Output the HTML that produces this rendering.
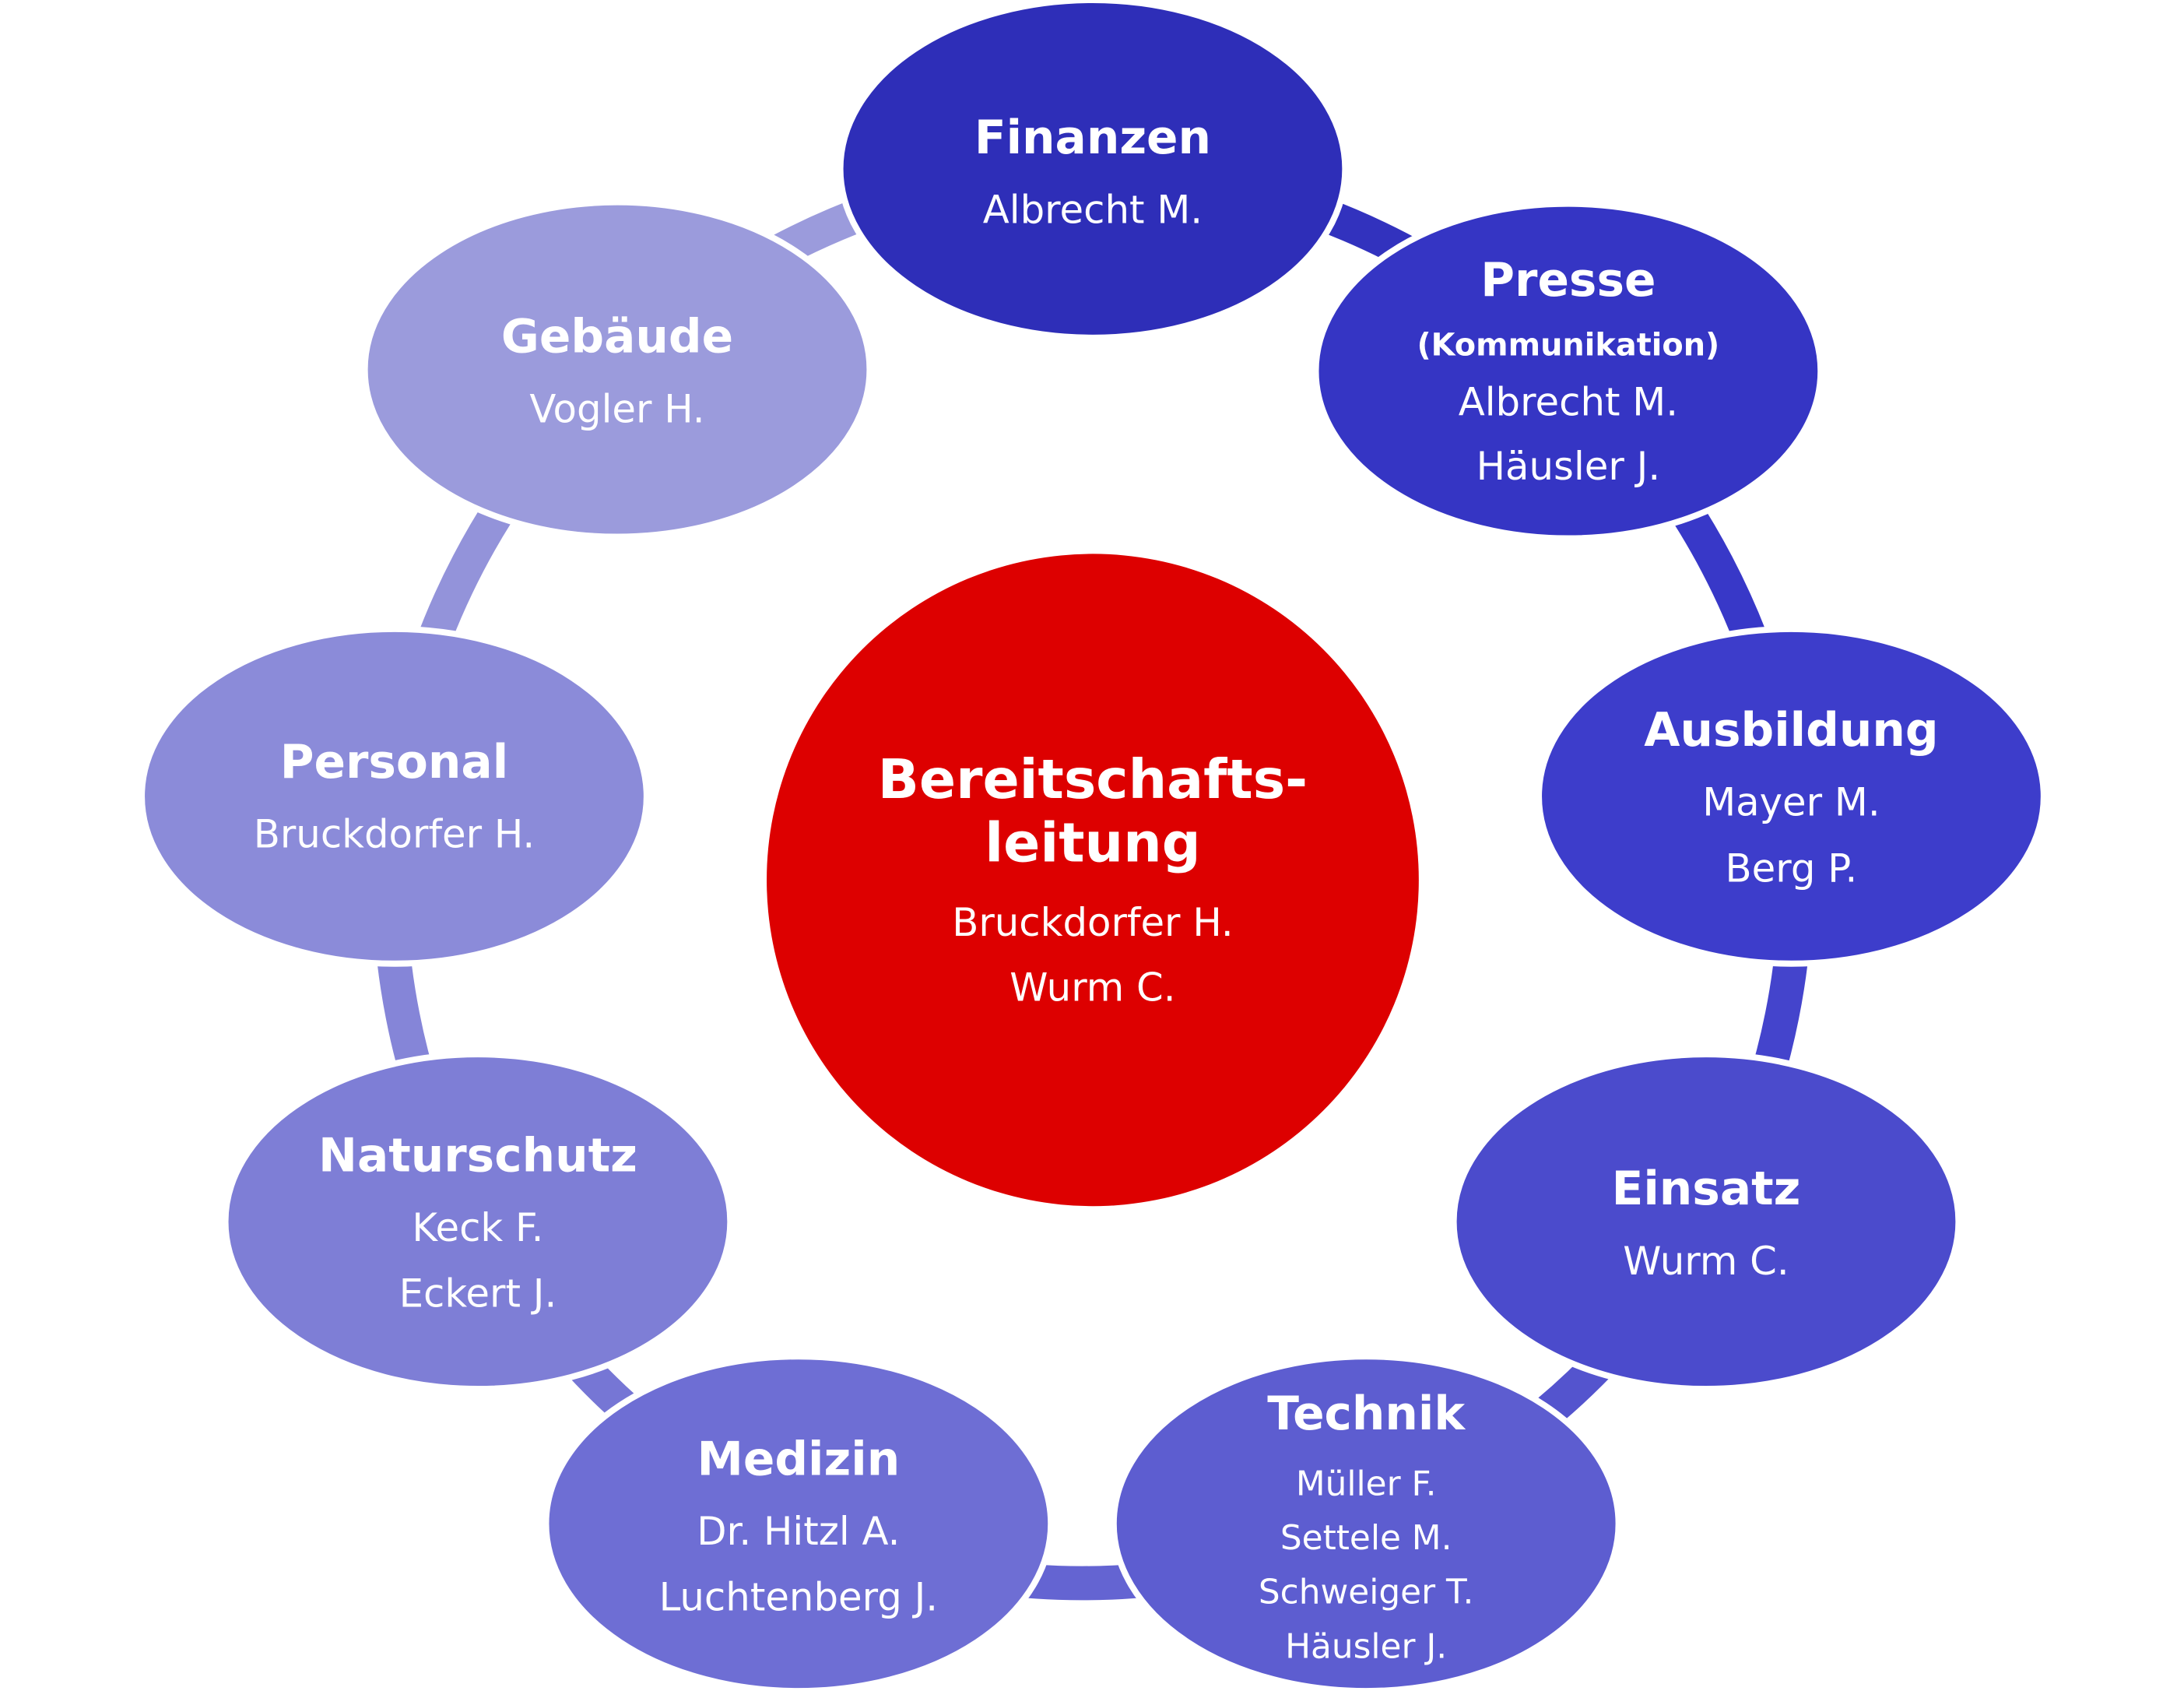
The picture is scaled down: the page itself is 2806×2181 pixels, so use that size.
<!DOCTYPE html>
<html><head><meta charset="utf-8"><style>
html,body{margin:0;padding:0;background:#fff}
svg{display:block}
text{font-family:"DejaVu Sans","Liberation Sans",sans-serif;fill:#fff;text-anchor:middle}
.b{font-weight:bold;font-size:60px}
.n{font-size:50px}
</style></head><body>
<svg width="2806" height="2181" viewBox="0 0 2806 2181" xmlns="http://www.w3.org/2000/svg">
<g transform="scale(0.995)">
<g fill="none" stroke-width="44">
<path d="M1411 218 A914 914 0 0 1 2025 479" stroke="#3232be"/>
<path d="M2025 479 A914 914 0 0 1 2313 1028" stroke="#3838c8"/>
<path d="M2313 1028 A914 914 0 0 1 2203 1577" stroke="#4444cc"/>
<path d="M2203 1577 A914 914 0 0 1 1764 1967" stroke="#5454ce"/>
<path d="M1764 1967 A914 914 0 0 1 1031 1967" stroke="#6464d2"/>
<path d="M1031 1967 A914 914 0 0 1 617 1577" stroke="#7676d5"/>
<path d="M617 1577 A914 914 0 0 1 509 1028" stroke="#8585d8"/>
<path d="M509 1028 A914 914 0 0 1 797 477" stroke="#9393da"/>
<path d="M797 477 A914 914 0 0 1 1411 218" stroke="#9b9bdc"/>
</g>
<g stroke="#fff" stroke-width="8">
<ellipse cx="1411" cy="218" rx="326" ry="218" fill="#2e2eb8"/>
<ellipse cx="2025" cy="479" rx="326" ry="216" fill="#3535c4"/>
<ellipse cx="2313" cy="1028" rx="326" ry="216" fill="#3d3dcb"/>
<ellipse cx="2203" cy="1577" rx="326" ry="216" fill="#4b4bcc"/>
<ellipse cx="1764" cy="1967" rx="326" ry="216" fill="#5d5dd0"/>
<ellipse cx="1031" cy="1967" rx="326" ry="216" fill="#6e6ed4"/>
<ellipse cx="617" cy="1577" rx="326" ry="216" fill="#7e7ed6"/>
<ellipse cx="509" cy="1028" rx="326" ry="216" fill="#8b8bd9"/>
<ellipse cx="797" cy="477" rx="326" ry="216" fill="#9b9bdc"/>
</g>
<circle cx="1411" cy="1136" r="421" fill="#dd0000"/>

<text class="b" x="1411" y="198">Finanzen</text>
<text class="n" x="1411" y="288">Albrecht M.</text>

<text class="b" x="2025" y="382">Presse</text>
<text x="2025" y="459" style="font-weight:bold;font-size:40px">(Kommunikation)</text>
<text class="n" x="2025" y="536">Albrecht M.</text>
<text class="n" x="2025" y="619">Häusler J.</text>

<text class="b" x="797" y="455">Gebäude</text>
<text class="n" x="797" y="545">Vogler H.</text>

<text class="b" x="2313" y="963">Ausbildung</text>
<text class="n" x="2313" y="1053">Mayer M.</text>
<text class="n" x="2313" y="1138">Berg P.</text>

<text class="b" x="509" y="1004">Personal</text>
<text class="n" x="509" y="1094">Bruckdorfer H.</text>

<text x="1411" y="1030" style="font-weight:bold;font-size:70px">Bereitschafts-</text>
<text x="1411" y="1112" style="font-weight:bold;font-size:70px">leitung</text>
<text class="n" x="1411" y="1208">Bruckdorfer H.</text>
<text class="n" x="1411" y="1292">Wurm C.</text>

<text class="b" x="2203" y="1555">Einsatz</text>
<text class="n" x="2203" y="1645">Wurm C.</text>

<text class="b" x="617" y="1512">Naturschutz</text>
<text class="n" x="617" y="1602">Keck F.</text>
<text class="n" x="617" y="1687">Eckert J.</text>

<text class="b" x="1764" y="1845">Technik</text>
<text x="1764" y="1930" style="font-size:44px">Müller F.</text>
<text x="1764" y="2000" style="font-size:44px">Settele M.</text>
<text x="1764" y="2070" style="font-size:44px">Schweiger T.</text>
<text x="1764" y="2140" style="font-size:44px">Häusler J.</text>

<text class="b" x="1031" y="1904">Medizin</text>
<text class="n" x="1031" y="1994">Dr. Hitzl A.</text>
<text class="n" x="1031" y="2079">Luchtenberg J.</text>
</g>
</svg>
</body></html>
